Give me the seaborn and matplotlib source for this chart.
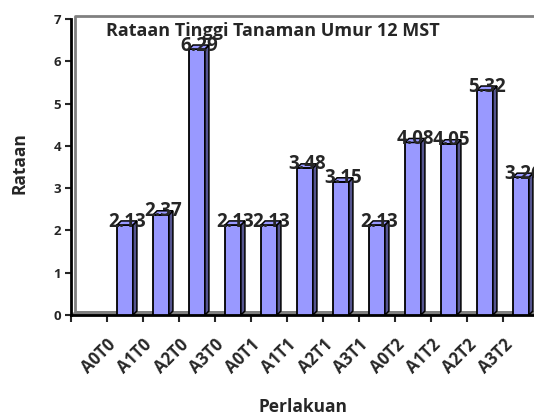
import numpy as np
import matplotlib
matplotlib.use("Agg")
import matplotlib.pyplot as plt
import seaborn as sns
from matplotlib.patches import Polygon

# Data (bars sit one slot to the right of their labels)
kategori = ["A0T0", "A1T0", "A2T0", "A3T0", "A0T1", "A1T1",
            "A2T1", "A3T1", "A0T2", "A1T2", "A2T2", "A3T2"]
rataan = [2.13, 2.37, 6.29, 2.13, 2.13, 3.48, 3.15, 2.13, 4.08, 4.05, 5.32, 3.26]
label_teks = ["2.13", "2.37", "6.29", "2.13", "2.13", "3.48",
              "3.15", "2.13", "4.08", "4.05", "5.32", "3.26"]
posisi = np.arange(1, len(rataan) + 1)

sns.set_style("white")
plt.rcParams["font.family"] = ["Open Sans", "DejaVu Sans"]
plt.rcParams["font.weight"] = "bold"

W, H = 534, 418
fig = plt.figure(figsize=(W / 100, H / 100), dpi=100)
# plot area in pixels: y axis at x=71, y=0 at 315, y=7 at 19, 36 px per category
ax = fig.add_axes([71 / W, (H - 315) / H, (W - 71) / W, (315 - 19) / H])
ax.set_xlim(-0.5, -0.5 + (W - 71) / 36)
ax.set_ylim(0, 7)

dx = 4 / 36
dy = 4 / 42.3

# floor and back wall of the 3D box
ax.add_patch(Polygon([(-0.5, 0), (-0.5 + dx, dy), (13, dy), (13, 0)],
                     closed=True, facecolor="#808080", edgecolor="none",
                     zorder=1, clip_on=False))
ax.plot([-0.5 + dx, -0.5 + dx, 13], [dy, 7 + dy * 0.7, 7 + dy * 0.7],
        color="#808080", lw=2, clip_on=False, zorder=1)

sns.barplot(x=posisi, y=rataan, native_scale=True, width=0.44,
            color="#9999FF", saturation=1, edgecolor="black", linewidth=1.3,
            ax=ax, zorder=3)

for p, teks in zip(ax.patches[-len(rataan):], label_teks):
    x0 = p.get_x()
    x1 = x0 + p.get_width()
    h = p.get_height()
    side = Polygon([(x1, 0), (x1 + dx, dy), (x1 + dx, h + dy), (x1, h)],
                   closed=True, facecolor="#55558F", edgecolor="black",
                   lw=1.1, zorder=3, clip_on=False)
    top = Polygon([(x0, h), (x0 + dx, h + dy), (x1 + dx, h + dy), (x1, h)],
                  closed=True, facecolor="#9999FF", edgecolor="black",
                  lw=1.1, zorder=3, clip_on=False)
    ax.add_patch(side)
    ax.add_patch(top)
    ax.text((x0 + x1 + dx) / 2, h + 0.08, teks, ha="center", va="center",
            fontsize=13.5, fontweight="bold", zorder=5, clip_on=False)

for s in ["top", "right"]:
    ax.spines[s].set_visible(False)
ax.spines["left"].set_linewidth(2)
ax.spines["bottom"].set_linewidth(2)
ax.spines["left"].set_color("black")
ax.spines["bottom"].set_color("black")

ax.set_yticks(range(0, 8))
ax.tick_params(axis="y", direction="out", length=4, width=1.5, labelsize=9.5, pad=3,
               left=True)
ax.set_xticks(np.arange(-0.5, 12, 1))
ax.set_xticklabels([""] + kategori, rotation=45, ha="right",
                   rotation_mode="anchor", fontsize=12, fontweight="bold")
ax.tick_params(axis="x", direction="out", length=5, width=1.5, pad=10, bottom=True)
for t in ax.get_yticklabels():
    t.set_fontweight("bold")

ax.set_xlabel("")
ax.set_ylabel("")
fig.text(20 / W, 1 - 163 / H, "Rataan", rotation=90, ha="center", va="center",
         fontsize=12.5, fontweight="bold")
fig.text(303 / W, 1 - 407 / H, "Perlakuan", ha="center", va="center",
         fontsize=12.5, fontweight="bold")
fig.text(273 / W, 1 - 31 / H, "Rataan Tinggi Tanaman Umur 12 MST", ha="center",
         va="center", fontsize=13, fontweight="bold")

fig.savefig("out.png", dpi=100)
